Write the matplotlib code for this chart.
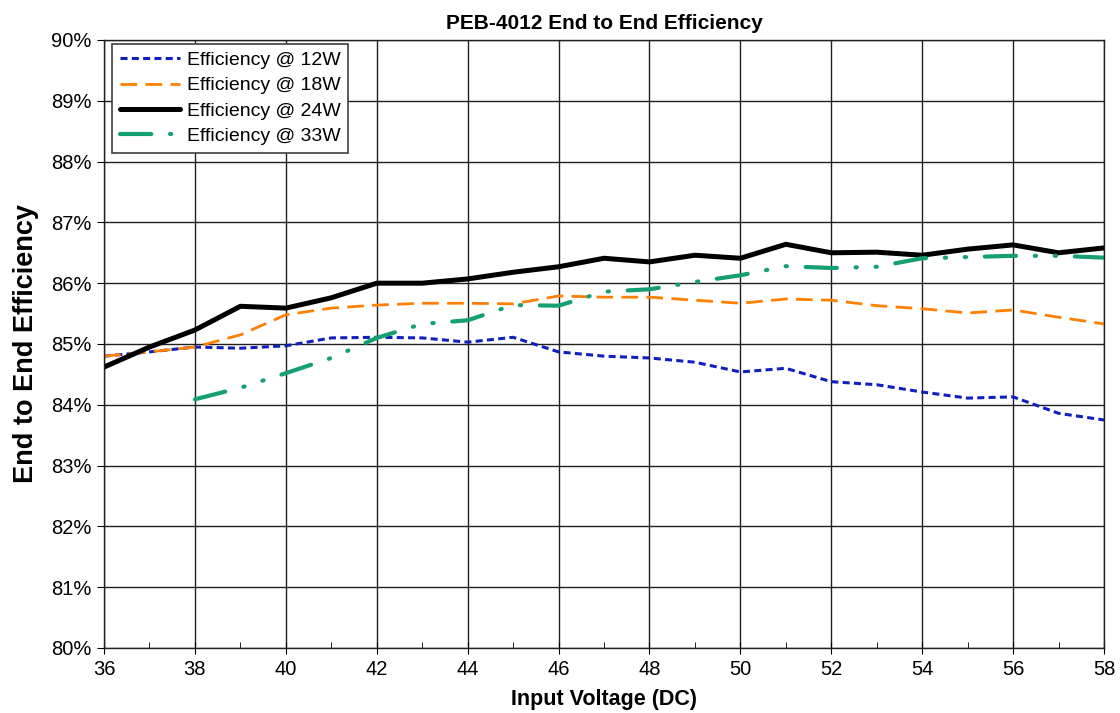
import matplotlib
matplotlib.use("Agg")
import matplotlib.pyplot as plt
from matplotlib.ticker import MultipleLocator, FuncFormatter

plt.rcParams['font.family'] = ['Liberation Sans', 'DejaVu Sans']

# voltages (V)
volt = [36, 37, 38, 39, 40, 41, 42, 43, 44, 45, 46, 47, 48, 49, 50, 51, 52, 53, 54, 55, 56, 57, 58]
volt_33 = volt[2:]

# efficiency (%)
eff_12 = [84.80, 84.87, 84.95, 84.93, 84.97, 85.10, 85.11, 85.10, 85.03, 85.11, 84.87, 84.80,
          84.77, 84.70, 84.54, 84.60, 84.38, 84.33, 84.21, 84.11, 84.13, 83.86, 83.75]
eff_18 = [84.80, 84.87, 84.95, 85.15, 85.48, 85.59, 85.64, 85.67, 85.67, 85.66, 85.79, 85.77,
          85.77, 85.72, 85.67, 85.74, 85.72, 85.63, 85.58, 85.51, 85.56, 85.44, 85.33]
eff_24 = [84.62, 84.95, 85.23, 85.62, 85.59, 85.76, 86.00, 86.00, 86.07, 86.18, 86.27, 86.41,
          86.35, 86.46, 86.41, 86.64, 86.50, 86.51, 86.46, 86.56, 86.63, 86.50, 86.58]
eff_33 = [84.09, 84.28, 84.52, 84.77, 85.10, 85.33, 85.39, 85.64, 85.63, 85.86, 85.90,
          86.02, 86.13, 86.28, 86.25, 86.27, 86.41, 86.43, 86.45, 86.45, 86.42]

fig = plt.figure(figsize=(11.2, 7.13), dpi=100)
ax = fig.add_axes([0.0929, 0.0912, 0.8928, 0.8527])

ax.plot(volt, eff_12, color='#1020c0', lw=2.2, ls=(0, (2.3, 1.4)), label='Efficiency @ 12W')
ax.plot(volt, eff_18, color='#ff8000', lw=2.0, ls=(0, (6, 3)), label='Efficiency @ 18W')
ax.plot(volt, eff_24, color='black', lw=3.6, label='Efficiency @ 24W', solid_capstyle='round')
ax.plot(volt_33, eff_33, color='#14a072', lw=3.0, ls=(0, (7.5, 4.5, 0.3, 4.5, 0.3, 4.5)),
        dash_capstyle='round', label='Efficiency @ 33W')

ax.set_xlim(36, 58)
ax.set_ylim(80, 90)
ax.xaxis.set_major_locator(MultipleLocator(2))
ax.xaxis.set_minor_locator(MultipleLocator(1))
ax.yaxis.set_major_locator(MultipleLocator(1))
ax.yaxis.set_major_formatter(FuncFormatter(lambda v, p: '%d%%' % round(v)))
ax.grid(True, which='major', color='#202020', lw=1.0)
ax.set_axisbelow(True)
for s in ax.spines.values():
    s.set_color('#202020')
    s.set_linewidth(1.0)

ax.tick_params(axis='x', which='major', direction='inout', length=9, labelsize=14.5, pad=4)
ax.tick_params(axis='x', which='minor', direction='in', length=4)
ax.tick_params(axis='y', which='major', direction='out', length=5, labelsize=14.5, pad=4)

ax.set_title('PEB-4012 End to End Efficiency', fontsize=15, fontweight='bold', pad=8)
ax.set_xlabel('Input Voltage (DC)', fontsize=15.5, fontweight='bold', labelpad=7)
ax.set_ylabel('End to End Efficiency', fontsize=19.5, fontweight='bold', labelpad=9)

leg = ax.legend(loc='upper left', bbox_to_anchor=(0.008, 0.994), borderaxespad=0,
                fontsize=14, frameon=True, fancybox=False, edgecolor='#404040', framealpha=1,
                handlelength=3.1, labelspacing=0.4, borderpad=0.4, handletextpad=0.35)
leg.get_frame().set_linewidth(1.2)

fig.savefig('out.png', dpi=100)
